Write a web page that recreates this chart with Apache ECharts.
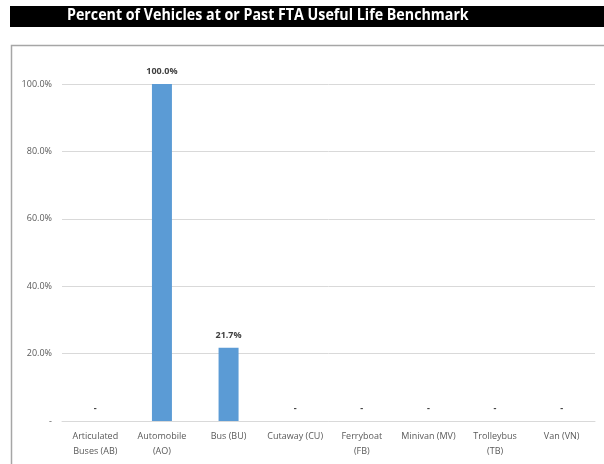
<!DOCTYPE html>
<html><head><meta charset="utf-8">
<script src="https://cdn.jsdelivr.net/npm/echarts@6/dist/echarts.min.js"></script>
<style>html,body{margin:0;padding:0;background:#fff;}#c{width:604px;height:464px;}</style>
</head><body><div id="c"></div>
<script>
var categories = ['Articulated\nBuses (AB)', 'Automobile\n(AO)', 'Bus (BU)', 'Cutaway (CU)', 'Ferryboat\n(FB)', 'Minivan (MV)', 'Trolleybus\n(TB)', 'Van (VN)'];
var values = [0, 100.0, 21.7, 0, 0, 0, 0, 0];
var yTicks = [0, 20, 40, 60, 80, 100];
var titleText = 'Percent of Vehicles at or Past FTA Useful Life Benchmark';

var chart = echarts.init(document.getElementById('c'));
chart.setOption({
  animation: false,
  graphic: [
    {type: 'rect', shape: {x: 10, y: 6, width: 600, height: 21}, style: {fill: '#000'}, z: 0},
    {type: 'text', x: 67, y: 7, scaleX: 0.89, style: {text: titleText, fill: '#fff', font: 'bold 16px "Open Sans", sans-serif'}, z: 1},
    {type: 'rect', shape: {x: 11.5, y: 45.5, width: 620, height: 440}, style: {fill: 'none', stroke: '#a6a6a6', lineWidth: 1.5}, z: 0}
  ],
  grid: {left: 62, right: 9, top: 84, bottom: 43, containLabel: false},
  xAxis: {
    type: 'category', data: categories,
    axisLine: {lineStyle: {color: '#d9d9d9'}},
    axisTick: {show: false},
    axisLabel: {color: '#595959', fontSize: 9, fontFamily: 'Open Sans, sans-serif', interval: 0, lineHeight: 15, margin: 8}
  },
  yAxis: {
    type: 'value', min: 0, max: 100, interval: 20,
    axisLine: {show: false}, axisTick: {show: false},
    splitLine: {lineStyle: {color: '#d9d9d9'}},
    axisLabel: {color: '#595959', fontSize: 9, fontFamily: 'Open Sans, sans-serif', margin: 10,
      formatter: function (v) { return v === 0 ? '-' : v.toFixed(1) + '%'; }}
  },
  series: [{
    type: 'bar', data: values, barWidth: 20,
    itemStyle: {color: '#5b9bd5'},
    label: {show: true, position: 'top', distance: 8, color: '#404040', fontSize: 9, fontWeight: 'bold', fontFamily: 'Open Sans, sans-serif',
      formatter: function (p) { return p.value === 0 ? '-' : p.value.toFixed(1) + '%'; }}
  }]
});
</script></body></html>
